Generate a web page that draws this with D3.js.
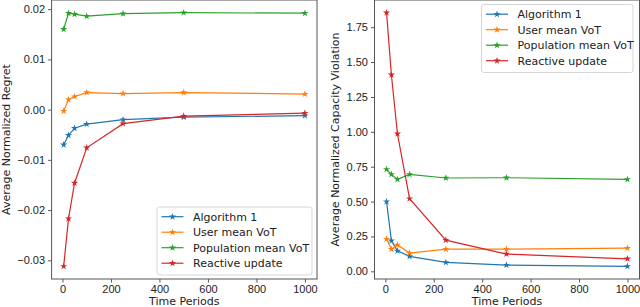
<!DOCTYPE html>
<html lang="en">
<head>
    <meta charset="UTF-8">
    <title>Regret and Capacity Violation</title>
    <script src="https://d3js.org/d3.v7.min.js"></script>
    <style>
        body {
            margin: 0;
            padding: 0;
            background: #fff;
            font-family: 'DejaVu Sans', sans-serif;
        }
        .tick text {
            font-size: 11px;
            fill: #222;
        }
        .tick line, .domain {
            stroke: #555;
        }
        .frame {
            fill: none;
            stroke: #555;
            stroke-width: 1px;
        }
        .axis-label {
            font-size: 11px;
            fill: #222;
        }
        .legend text {
            font-size: 11px;
            fill: #222;
        }
    </style>
</head>
<body>
<div id="chart"></div>

<script>
    // time periods (x values)
    const periods = [5, 25, 50, 100, 250, 500, 1000];
    const seriesNames = ["Algorithm 1", "User mean VoT", "Population mean VoT", "Reactive update"];
    const colors = ["#1f77b4", "#ff7f0e", "#2ca02c", "#d62728"];

    // left panel: average normalized regret
    const regretAlg1 = [-0.0070, -0.0051, -0.0037, -0.0029, -0.0020, -0.0015, -0.0012];
    const regretUser = [-0.0003, 0.0020, 0.0026, 0.0034, 0.0032, 0.0034, 0.0031];
    const regretPop = [0.0160, 0.0192, 0.0190, 0.0186, 0.0191, 0.0193, 0.0192];
    const regretReactive = [-0.0312, -0.0217, -0.0146, -0.0076, -0.0028, -0.0013, -0.0007];
    const regretTicks = [-0.03, -0.02, -0.01, 0.00, 0.01, 0.02];

    // right panel: average normalized capacity violation
    const violAlg1 = [0.50, 0.219, 0.147, 0.107, 0.064, 0.045, 0.036];
    const violUser = [0.231, 0.159, 0.190, 0.131, 0.159, 0.159, 0.166];
    const violPop = [0.731, 0.695, 0.659, 0.695, 0.669, 0.671, 0.659];
    const violReactive = [1.854, 1.409, 0.986, 0.521, 0.224, 0.124, 0.090];
    const violTicks = [0.00, 0.25, 0.50, 0.75, 1.00, 1.25, 1.50, 1.75];

    const xTicks = [0, 200, 400, 600, 800, 1000];

    const W = 640, H = 307;
    const svg = d3.select("#chart").append("svg")
        .attr("width", W)
        .attr("height", H);

    // matplotlib style 5% margins
    function padded(ext) {
        const m = (ext[1] - ext[0]) * 0.05;
        return [ext[0] - m, ext[1] + m];
    }

    function drawPanel(opts) {
        const g = svg.append("g");
        const x = d3.scaleLinear()
            .domain(padded(d3.extent(periods)))
            .range([opts.left, opts.right]);
        const allVals = [].concat(...opts.series);
        const y = d3.scaleLinear()
            .domain(padded(d3.extent(allVals)))
            .range([opts.bottom, opts.top]);

        // axes
        g.append("g")
            .attr("transform", "translate(0," + opts.bottom + ")")
            .call(d3.axisBottom(x).tickValues(xTicks).tickSize(3.5).tickPadding(3).tickFormat(d3.format("d")))
            .call(a => a.select(".domain").remove());
        g.append("g")
            .attr("transform", "translate(" + opts.left + ",0)")
            .call(d3.axisLeft(y).tickValues(opts.ticks).tickSize(3.5).tickPadding(3).tickFormat(opts.fmt))
            .call(a => a.select(".domain").remove());

        g.append("rect")
            .attr("class", "frame")
            .attr("x", opts.left)
            .attr("y", opts.top)
            .attr("width", opts.right - opts.left)
            .attr("height", opts.bottom - opts.top);

        // lines and star markers
        const line = d3.line()
            .x((d, i) => x(periods[i]))
            .y(d => y(d));
        const star = d3.symbol().type(d3.symbolStar).size(16);

        opts.series.forEach((vals, k) => {
            g.append("path")
                .datum(vals)
                .attr("fill", "none")
                .attr("stroke", colors[k])
                .attr("stroke-width", 1.2)
                .attr("d", line);
            g.selectAll(null)
                .data(vals)
                .enter().append("path")
                .attr("d", star)
                .attr("fill", colors[k])
                .attr("transform", (d, i) => "translate(" + x(periods[i]) + "," + y(d) + ")");
        });

        // axis labels
        g.append("text")
            .attr("class", "axis-label")
            .attr("x", (opts.left + opts.right) / 2)
            .attr("y", 305)
            .attr("text-anchor", "middle")
            .text("Time Periods");
        g.append("text")
            .attr("class", "axis-label")
            .attr("transform", "translate(" + opts.ylabelX + "," + ((opts.top + opts.bottom) / 2) + ") rotate(-90)")
            .attr("text-anchor", "middle")
            .attr("dy", "0.35em")
            .text(opts.ylabel);

        // legend
        const lg = g.append("g")
            .attr("class", "legend")
            .attr("transform", "translate(" + opts.legendX + "," + opts.legendY + ")");
        lg.append("rect")
            .attr("width", opts.legendW)
            .attr("height", 68)
            .attr("rx", 2.5)
            .attr("fill", "#fff")
            .attr("fill-opacity", 0.8)
            .attr("stroke", "#d6d6d6");
        seriesNames.forEach((name, k) => {
            const cy = 9.7 + k * 15.5;
            lg.append("line")
                .attr("x1", 4.5).attr("x2", 26.5)
                .attr("y1", cy).attr("y2", cy)
                .attr("stroke", colors[k])
                .attr("stroke-width", 1.2);
            lg.append("path")
                .attr("d", star)
                .attr("fill", colors[k])
                .attr("transform", "translate(15.5," + cy + ")");
            lg.append("text")
                .attr("x", 36)
                .attr("y", cy)
                .attr("dy", "0.35em")
                .text(name);
        });
    }

    drawPanel({
        left: 51.6, right: 317, top: 0, bottom: 279,
        series: [regretAlg1, regretUser, regretPop, regretReactive],
        ticks: regretTicks,
        fmt: d => d3.format(".2f")(d).replace("-", "\u2212"),
        ylabel: "Average Normalized Regret",
        ylabelX: 6,
        legendX: 157, legendY: 207, legendW: 155
    });

    drawPanel({
        left: 374.5, right: 639.5, top: 0, bottom: 279,
        series: [violAlg1, violUser, violPop, violReactive],
        ticks: violTicks,
        fmt: d3.format(".2f"),
        ylabel: "Average Normalized Capacity Violation",
        ylabelX: 335,
        legendX: 481.5, legendY: 4.5, legendW: 151.5
    });
</script>
</body>
</html>
